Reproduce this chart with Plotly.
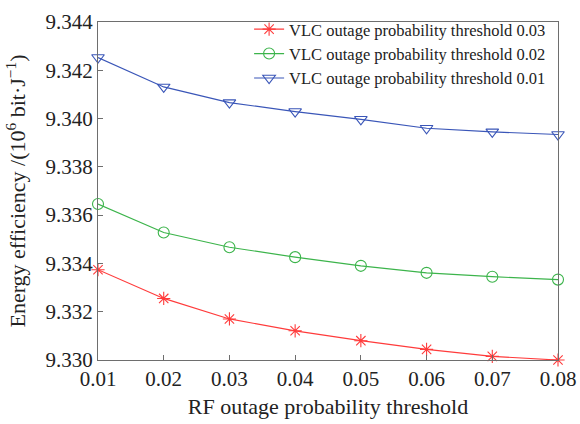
import plotly.graph_objects as go

x_vals = [0.01, 0.02, 0.03, 0.04, 0.05, 0.06, 0.07, 0.08]
ee_003 = [9.33374, 9.33255, 9.33170, 9.33121, 9.33080, 9.33044, 9.33015, 9.33000]
ee_002 = [9.33646, 9.33528, 9.33467, 9.33426, 9.33390, 9.33361, 9.33345, 9.33333]
ee_001 = [9.34253, 9.34131, 9.34066, 9.34029, 9.33997, 9.33960, 9.33945, 9.33934]
names = ["VLC outage probability threshold 0.03",
         "VLC outage probability threshold 0.02",
         "VLC outage probability threshold 0.01"]
x_ticks = [0.01, 0.02, 0.03, 0.04, 0.05, 0.06, 0.07, 0.08]
y_ticks = [9.330, 9.332, 9.334, 9.336, 9.338, 9.340, 9.342, 9.344]

font_fam = "Liberation Serif, DejaVu Serif, serif"
fig = go.Figure()
series = [(ee_003, "#ff3b3b", "asterisk-open"),
          (ee_002, "#3cb44b", "circle-open"),
          (ee_001, "#3a56b8", "triangle-down-open")]
for (vals, col, sym), nm in zip(series, names):
    fig.add_trace(go.Scatter(x=x_vals, y=vals, name=nm, mode="lines+markers",
                             line=dict(color=col, width=1.2),
                             marker=dict(symbol=sym, size=11, color=col,
                                         line=dict(color=col, width=1.1)),
                             cliponaxis=False))

axis_common = dict(showgrid=False, zeroline=False, showline=True, mirror=True,
                   linecolor="#6e6e6e", linewidth=1.2, ticks="inside",
                   ticklen=5, tickcolor="#6e6e6e", automargin=False,
                   tickfont=dict(family=font_fam, size=21, color="#222"))
fig.update_xaxes(range=[0.01, 0.08], tickvals=x_ticks,
                 ticktext=[f"{v:.2f}" for v in x_ticks],
                 title=dict(text="RF outage probability threshold",
                            font=dict(family=font_fam, size=22, color="#222"),
                            standoff=8),
                 **axis_common)
fig.update_yaxes(range=[9.330, 9.344], tickvals=y_ticks,
                 ticktext=[f"{v:.3f}" for v in y_ticks],
                 title=dict(text="Energy efficiency /(10<sup>6</sup> bit·J<sup>−1</sup>)",
                            font=dict(family=font_fam, size=22, color="#222"),
                            standoff=13),
                 **axis_common)
fig.update_layout(width=580, height=424,
                  margin=dict(l=98, r=22, t=16, b=64),
                  plot_bgcolor="white", paper_bgcolor="white",
                  showlegend=True,
                  legend=dict(x=0.985, y=1.03, xanchor="right", yanchor="top",
                              bgcolor="rgba(255,255,255,0)",
                              font=dict(family=font_fam, size=16.5, color="#222"),
                              tracegroupgap=0, itemwidth=30))
fig.write_html("out.html")
